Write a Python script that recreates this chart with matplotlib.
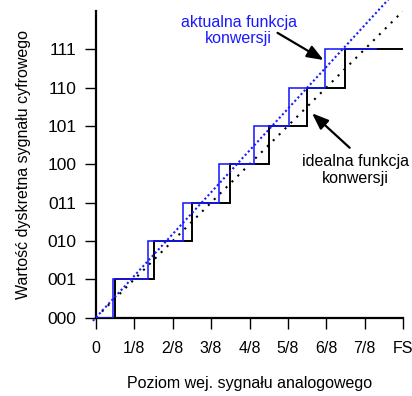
import matplotlib
matplotlib.use("Agg")
import matplotlib.pyplot as plt

plt.rcParams['font.family'] = ['Liberation Sans', 'DejaVu Sans']

# x axis in units of 1/8 FS, y axis as output code index
x_labels = ['0', '1/8', '2/8', '3/8', '4/8', '5/8', '6/8', '7/8', 'FS']
y_labels = ['000', '001', '010', '011', '100', '101', '110', '111']

# code transition points (input level at which the output steps up)
ideal_edges = [0.5, 1.5, 2.5, 3.5, 4.5, 5.5, 6.5]
actual_edges = [0.43, 1.36, 2.28, 3.2, 4.12, 5.04, 5.97]
ideal_end = 8.0
actual_end = 7.3

# straight-line transfer functions
ideal_line_x = [0, 8]
ideal_line_y = [0, 8]
actual_line_x = [-0.08, 7.7]
actual_line_y = [-0.087, 8.39]

BLUE = '#1a1aff'


def staircase(edges, end):
    xs = [0]
    ys = [0]
    for k, e in enumerate(edges):
        xs += [e, e]
        ys += [k, k + 1]
    xs.append(end)
    ys.append(len(edges))
    return xs, ys


fig = plt.figure(figsize=(4.12, 3.96), dpi=100)
ax = fig.add_axes([96 / 412, 1 - 317.5 / 396, 307 / 412, 306.5 / 396])

ix, iy = staircase(ideal_edges, ideal_end)
ax.plot(ix, iy, color='black', lw=1.4, solid_joinstyle='miter', zorder=3)
ax.plot(ideal_line_x, ideal_line_y, color='black', lw=1.5, linestyle=(0, (1, 3)), zorder=2)

axx, axy = staircase(actual_edges, actual_end)
ax.plot(axx, axy, color=BLUE, lw=1.15, solid_joinstyle='miter', zorder=4)
ax.plot(actual_line_x, actual_line_y, color=BLUE, lw=1.5, linestyle=(0, (1, 1.2)),
        clip_on=False, zorder=4)

ax.set_xlim(0, 8)
ax.set_ylim(0, 8)
ax.set_xticks(range(9))
ax.set_xticklabels(x_labels)
ax.set_yticks(range(8))
ax.set_yticklabels(y_labels)
ax.spines['top'].set_visible(False)
ax.spines['right'].set_visible(False)
ax.spines['left'].set_linewidth(1.6)
ax.spines['bottom'].set_linewidth(1.6)
ax.tick_params(axis='both', direction='out', length=8, width=1.0)
ax.tick_params(axis='x', pad=9, labelsize=11.5)
ax.tick_params(axis='y', pad=6, labelsize=12.5)

ax.set_xlabel('Poziom wej. sygnału analogowego', fontsize=11.5, labelpad=14)
ax.set_ylabel('Wartość dyskretna sygnału cyfrowego', fontsize=11.5, labelpad=12)

# labels and arrows pointing at the two staircases
ax.text(3.72, 7.5, 'aktualna funkcja\nkonwersji', color=BLUE, fontsize=11.5,
        ha='center', va='center', linespacing=1.1)
ax.annotate('', xy=(5.93, 6.72), xytext=(4.73, 7.43),
            arrowprops=dict(arrowstyle='-|>,head_length=0.9,head_width=0.35', color='black',
                            lw=1.6, shrinkA=0, shrinkB=0, mutation_scale=11))
ax.text(6.77, 3.85, 'idealna funkcja\nkonwersji', color='black', fontsize=11.5,
        ha='center', va='center', linespacing=1.1)
ax.annotate('', xy=(5.63, 5.33), xytext=(6.61, 4.43),
            arrowprops=dict(arrowstyle='-|>,head_length=0.9,head_width=0.35', color='black',
                            lw=1.6, shrinkA=0, shrinkB=0, mutation_scale=11))

fig.savefig('out.png', dpi=100)
